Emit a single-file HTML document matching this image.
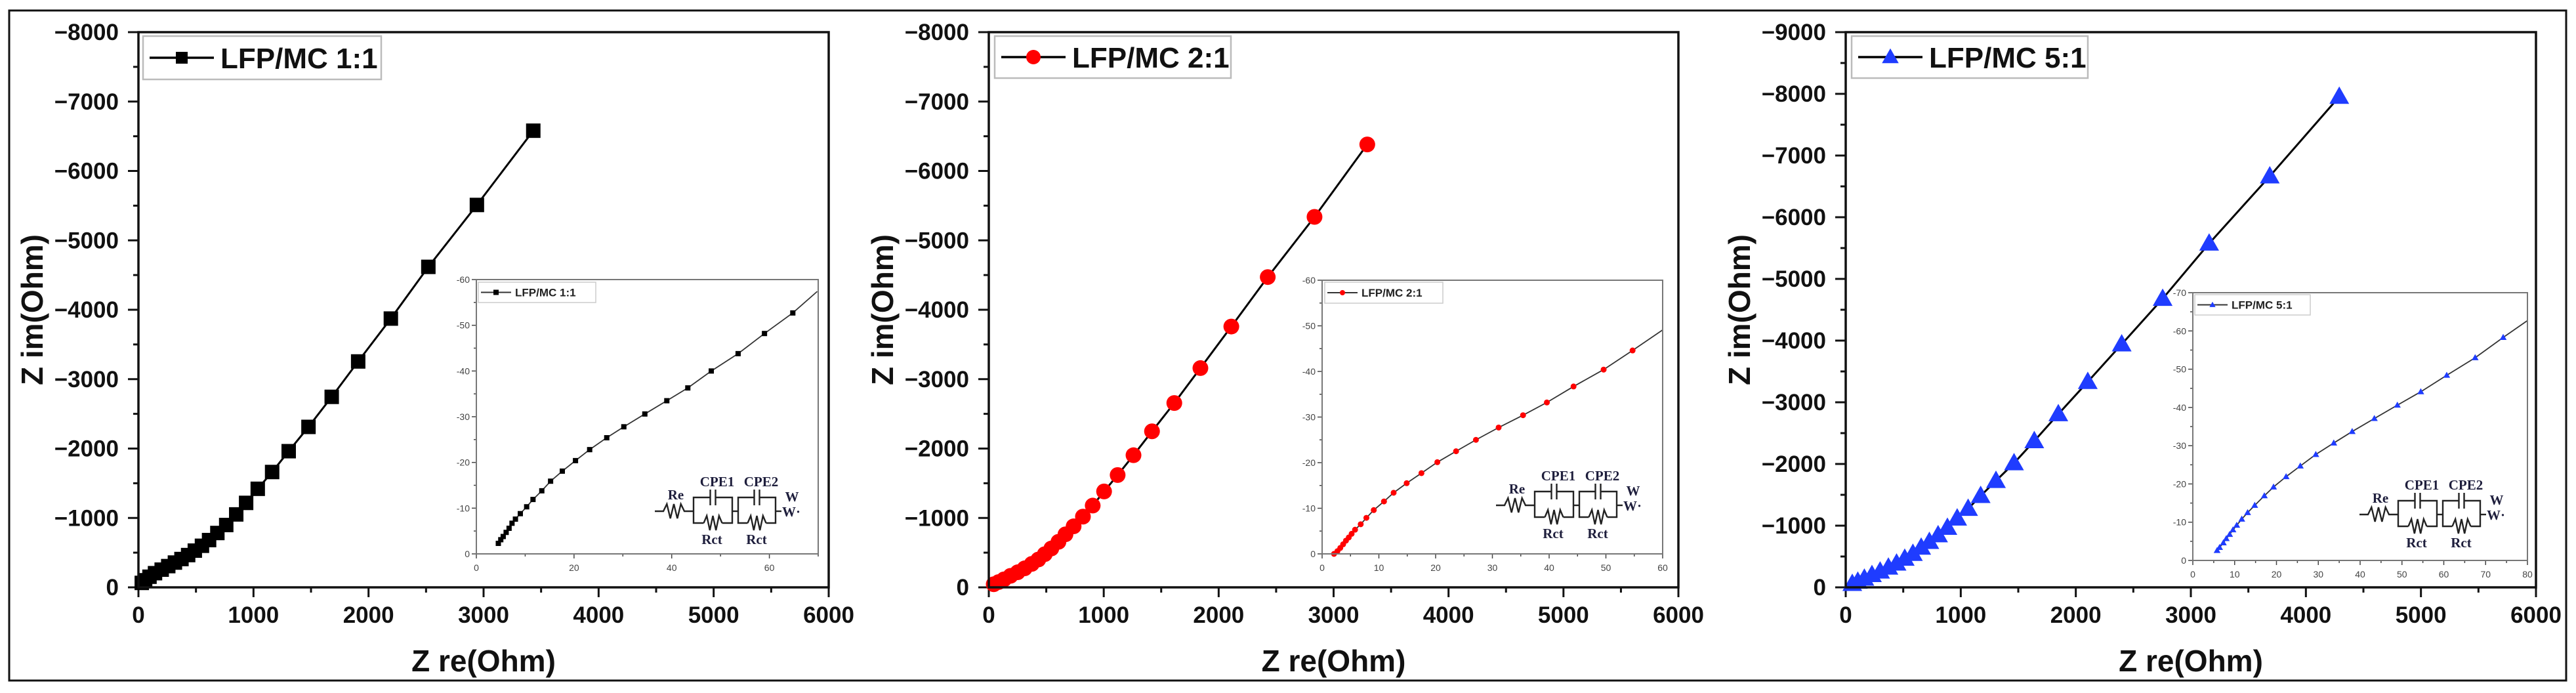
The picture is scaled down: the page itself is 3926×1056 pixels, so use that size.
<!DOCTYPE html>
<html><head><meta charset="utf-8"><style>
html,body{margin:0;padding:0;background:#fff;}
svg{display:block;}
text{font-family:"Liberation Sans",Arial,sans-serif;}
text.serif{font-family:"Liberation Serif","Times New Roman",serif;}
</style></head><body>
<svg id="chart" width="3926" height="1056" viewBox="0 0 3926 1056" xmlns="http://www.w3.org/2000/svg">
<rect x="14" y="16" width="3897" height="1021" fill="#fff" stroke="#111" stroke-width="3"/>
</svg>
<script>
// ---- Panel 1 data (LFP/MC 1:1) ----
const p1Zre = [29,58,96,144,202,259,317,374,432,490,552,614,686,763,850,936,1037,1162,1306,1478,1680,1910,2194,2520,2942,3432];
const p1Zim = [64,102,153,204,255,306,357,408,465,529,599,681,783,898,1051,1217,1420,1662,1962,2312,2745,3255,3873,4618,5510,6580];
const p1InZre = [4.5,5.0,5.5,6.1,6.7,7.3,8.0,9.0,10.3,11.6,13.4,15.2,17.6,20.3,23.2,26.7,30.2,34.5,39.0,43.3,48.1,53.6,59.0,64.8,69.8];
const p1InZim = [2.3,3.1,3.8,4.7,5.6,6.7,7.6,8.8,10.3,11.9,13.8,15.9,18.1,20.4,22.8,25.4,27.8,30.6,33.5,36.3,40.0,43.8,48.2,52.7,57.4];
// ---- Panel 2 data (LFP/MC 2:1) ----
const p2Zre = [43,85,132,189,251,312,374,431,487,544,606,667,738,819,904,1003,1121,1259,1420,1614,1841,2110,2427,2834,3293];
const p2Zim = [45,76,115,166,217,274,338,401,478,560,656,764,879,1019,1178,1382,1618,1904,2248,2656,3159,3758,4471,5338,6382];
const p2InZre = [2.1,2.7,3.2,3.7,4.2,4.7,5.2,5.8,6.8,7.8,9.1,10.9,12.6,14.9,17.5,20.3,23.6,27.1,31.1,35.4,39.6,44.3,49.6,54.7,60];
const p2InZim = [0,0.6,1.3,2.1,2.9,3.6,4.4,5.3,6.5,7.9,9.6,11.5,13.4,15.5,17.7,20.1,22.5,25.0,27.7,30.4,33.2,36.7,40.4,44.6,49.1];
// ---- Panel 3 data (LFP/MC 5:1) ----
const p3Zre = [57,105,162,228,299,371,442,513,584,656,727,803,884,969,1064,1173,1306,1463,1639,1848,2104,2399,2755,3159,3686,4290];
const p3Zim = [57,93,143,201,258,322,387,466,545,645,738,846,967,1118,1275,1483,1727,2014,2372,2809,3332,3941,4679,5575,6664,7954];
const p3InZre = [5.8,6.4,7.3,8.0,8.8,9.6,10.5,11.7,13.1,14.8,17.1,19.3,22.3,25.7,29.4,33.7,38.1,43.4,48.9,54.5,60.7,67.5,74.2,80];
const p3InZim = [2.6,3.4,4.6,5.7,6.8,8.0,9.2,10.8,12.5,14.4,16.9,19.2,21.9,24.7,27.7,30.7,33.7,37.1,40.6,44.1,48.4,53.0,58.3,62.7];
// tick labels
const mainXTicks = [0,1000,2000,3000,4000,5000,6000];
const mainYTicks8 = [0,1000,2000,3000,4000,5000,6000,7000,8000];
const mainYTicks9 = [0,1000,2000,3000,4000,5000,6000,7000,8000,9000];
const inX1Ticks = [0,20,40,60];
const inX2Ticks = [0,10,20,30,40,50,60];
const inX3Ticks = [0,10,20,30,40,50,60,70,80];
const inY6Ticks = [0,10,20,30,40,50,60];
const inY7Ticks = [0,10,20,30,40,50,60,70];
const legendLabels = ["LFP/MC 1:1","LFP/MC 2:1","LFP/MC 5:1"];

const NS = "http://www.w3.org/2000/svg";
const svg = document.getElementById('chart');
function mk(tag, attrs, parent){
  const e = document.createElementNS(NS, tag);
  for (const k in attrs) e.setAttribute(k, attrs[k]);
  (parent||svg).appendChild(e);
  return e;
}
function marker(g, type, x, y, s, color){
  let e;
  if (type==='square') e = mk('rect',{x:x-s/2,y:y-s/2,width:s,height:s,fill:color},g);
  else if (type==='circle') e = mk('circle',{cx:x,cy:y,r:s/2,fill:color},g);
  else e = mk('polygon',{points:`${x},${y-s*0.6} ${x-s*0.58},${y+s*0.42} ${x+s*0.58},${y+s*0.42}`,fill:color},g);
  return e;
}
function minus(v){ return v===0 ? '0' : '\u2212'+v; }

function drawCircuit(g, x0, y0){
  const c = mk('g',{transform:`translate(${x0},${y0})`,fill:'none',stroke:'#222',"stroke-width":2.4},g);
  
  
  const zig = (xa,xb,y,a)=>{let p=`${xa},${y}`;const n=6;for(let i=1;i<n;i++){p+=` ${xa+(xb-xa)*i/n},${y+(i%2?-a:a)}`;}return p+` ${xb},${y}`;};
  mk('polyline',{points:`0,0 13,0 `+zig(13,45,0,11)+` 59,0`},c);
  [[59,118],[127,184]].forEach(([l,r])=>{
    const m=(l+r)/2;
    mk('polyline',{points:`${m-4},-21 ${l},-21 ${l},18 ${m-14},18`},c);
    mk('polyline',{points:`${m+4},-21 ${r},-21 ${r},18 ${m+14},18`},c);
    mk('line',{x1:m-4,y1:-33,x2:m-4,y2:-9},c);
    mk('line',{x1:m+4,y1:-33,x2:m+4,y2:-9},c);
    mk('polyline',{points:zig(m-14,m+14,18,11)},c);
  });
  mk('line',{x1:118,y1:0,x2:127,y2:0},c);
  mk('line',{x1:184,y1:0,x2:193,y2:0},c);
  const tx=(s,x,y,anchor)=>{const t=mk('text',{x:x0+x,y:y0+y,"class":'serif',"text-anchor":anchor||'middle',"font-weight":'bold',"font-size":21,fill:'#1e1e3c'},g);t.textContent=s;return t;};
  tx('Re',32,-18); tx('CPE1',95,-38); tx('CPE2',162,-38); tx('W',209,-15); tx('W·',194,8,'start');
  tx('Rct',87,50); tx('Rct',155,50);
}

const panels = [
 {L:211,R:1263,T:49,B:895,ymax:8000,yt:mainYTicks8,zre:p1Zre,zim:p1Zim,type:'square',color:'#000',ms:22,
  leg:[218,55,363,66],
  inset:{L:726,R:1247,T:426,B:844,xmax:70,ymax:60,xt:inX1Ticks,xminor:10,yt:inY6Ticks,zre:p1InZre,zim:p1InZim,ms:8,circ:[998,779],leg:[729,430,179,31]}},
 {L:1507,R:2558,T:49,B:895,ymax:8000,yt:mainYTicks8,zre:p2Zre,zim:p2Zim,type:'circle',color:'#ff0000',ms:24,
  leg:[1516,55,360,64],
  inset:{L:2015,R:2534,T:427,B:844,xmax:60,ymax:60,xt:inX2Ticks,xminor:5,yt:inY6Ticks,zre:p2InZre,zim:p2InZim,ms:9,circ:[2280,770],leg:[2019,430,180,32]}},
 {L:2813,R:3865,T:49,B:895,ymax:9000,yt:mainYTicks9,zre:p3Zre,zim:p3Zim,type:'triangle',color:'#1f3cff',ms:26,
  leg:[2822,55,360,64],
  inset:{L:3342,R:3852,T:446,B:854,xmax:80,ymax:70,xt:inX3Ticks,xminor:5,yt:inY7Ticks,zre:p3InZre,zim:p3InZim,ms:9,circ:[3596,784],leg:[3345,449,176,31]}}
];

panels.forEach((p,pi)=>{
  const g = mk('g',{});
  
  
  const sx = v => p.L + v/6000*(p.R-p.L);
  const sy = v => p.B - v/p.ymax*(p.B-p.T);
  for (let v=0; v<=6000; v+=500){
    const maj = v%1000===0;
    const t = mk('line',{x1:sx(v),x2:sx(v),y1:p.B,y2:p.B+(maj?15:8),stroke:'#111',"stroke-width":3},g);
     
  }
  for (let v=0; v<=p.ymax; v+=500){
    const maj = v%1000===0;
    const t = mk('line',{x1:p.L-(maj?16:8),x2:p.L,y1:sy(v),y2:sy(v),stroke:'#111',"stroke-width":3},g);
     
  }
  mainXTicks.forEach(v=>{
    const t = mk('text',{x:sx(v),y:p.B+54,"text-anchor":'middle',"font-size":35,"font-weight":'bold',fill:'#111'},g);
    t.textContent = v;
     
  });
  p.yt.forEach(v=>{
    const t = mk('text',{x:p.L-30,y:sy(v)+12,"text-anchor":'end',"font-size":35,"font-weight":'bold',fill:'#111'},g);
    t.textContent = minus(v);
     
  });
  const xt = mk('text',{x:(p.L+p.R)/2,y:1023,"text-anchor":'middle',"font-size":46,"font-weight":'bold',fill:'#111'},g);
  xt.textContent='Z re(Ohm)';
   
  const yx = p.L-146, yy=(p.T+p.B)/2;
  const yt = mk('text',{x:yx,y:yy,"text-anchor":'middle',"font-size":46,"font-weight":'bold',fill:'#111',transform:`rotate(-90 ${yx} ${yy})`},g);
  yt.textContent='Z im(Ohm)';
   
  const pts = p.zre.map((v,i)=>`${sx(v)},${sy(p.zim[i])}`).join(' ');
  const ln = mk('polyline',{points:pts,fill:'none',stroke:'#000',"stroke-width":3},g);
   
  p.zre.forEach((v,i)=>{
    const m = marker(g,p.type,sx(v),sy(p.zim[i]),p.ms,p.color);
     
  });
  const fr = mk('rect',{x:p.L,y:p.T,width:p.R-p.L,height:p.B-p.T,fill:'none',stroke:'#111',"stroke-width":3.5},g);
   
  const lg = mk('g',{},g);
   
  const [lx,ly,lw,lh]=p.leg;
  mk('rect',{x:lx,y:ly,width:lw,height:lh,fill:'#fff',stroke:'#bbb',"stroke-width":2.5},lg);
  mk('line',{x1:lx+10,x2:lx+108,y1:ly+lh/2,y2:ly+lh/2,stroke:'#000',"stroke-width":3.5},lg);
  marker(lg,p.type,lx+59,ly+lh/2,p.type==='square'?18:22,p.color);
  const ltx = mk('text',{x:lx+118,y:ly+lh/2+16,"font-size":44,"font-weight":'bold',fill:'#111'},lg);
  ltx.textContent = legendLabels[pi];
   

  const q = p.inset;
  const ig = mk('g',{},g);
   
  const ix = v => q.L + v/q.xmax*(q.R-q.L);
  const iy = v => q.B - v/q.ymax*(q.B-q.T);
  mk('rect',{x:q.L,y:q.T,width:q.R-q.L,height:q.B-q.T,fill:'#fff'},ig);
  for (let v=0; v<=q.xmax; v+=q.xminor){
    const maj = q.xt.includes(v);
    mk('line',{x1:ix(v),x2:ix(v),y1:q.B,y2:q.B+(maj?7:4),stroke:'#444',"stroke-width":1.5},ig);
  }
  for (let v=0; v<=q.ymax; v+=5){
    const maj = v%10===0;
    mk('line',{x1:q.L-(maj?7:4),x2:q.L,y1:iy(v),y2:iy(v),stroke:'#444',"stroke-width":1.5},ig);
  }
  q.xt.forEach(v=>{
    const t = mk('text',{x:ix(v),y:q.B+26,"text-anchor":'middle',"font-size":14,fill:'#444'},ig);
    t.textContent=v;
     
  });
  q.yt.forEach(v=>{
    const t = mk('text',{x:q.L-10,y:iy(v)+5,"text-anchor":'end',"font-size":14,fill:'#444'},ig);
    t.textContent= v===0?'0':'-'+v;
     
  });
  const ipts = q.zre.map((v,i)=>`${ix(v)},${iy(q.zim[i])}`).join(' ');
  const il = mk('polyline',{points:ipts,fill:'none',stroke:'#333',"stroke-width":1.8},ig);
   
  q.zre.forEach((v,i)=>{
    if (i===q.zre.length-1) return;
    const m = marker(ig,p.type,ix(v),iy(q.zim[i]),q.ms,p.color);
     
  });
  mk('rect',{x:q.L,y:q.T,width:q.R-q.L,height:q.B-q.T,fill:'none',stroke:'#777',"stroke-width":2},ig);
  const [ilx,ily,ilw,ilh]=q.leg;
  const il2 = mk('g',{},ig);
   
  mk('rect',{x:ilx,y:ily,width:ilw,height:ilh,fill:'#fff',stroke:'#ccc',"stroke-width":1.5},il2);
  mk('line',{x1:ilx+4,x2:ilx+50,y1:ily+ilh/2,y2:ily+ilh/2,stroke:'#333',"stroke-width":2},il2);
  marker(il2,p.type,ilx+27,ily+ilh/2,8,p.color);
  const ilt = mk('text',{x:ilx+56,y:ily+ilh/2+6,"font-size":17,"font-weight":'bold',fill:'#222'},il2);
  ilt.textContent = legendLabels[pi];
  drawCircuit(ig, q.circ[0], q.circ[1]);
});
</script>
</body></html>
